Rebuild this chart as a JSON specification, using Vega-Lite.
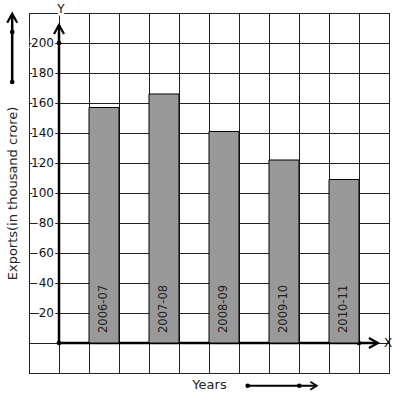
{
  "$schema": "https://vega.github.io/schema/vega-lite/v6.json",
  "width": 360,
  "height": 360,
  "autosize": "none",
  "padding": {"left": 29, "top": 13, "right": 8, "bottom": 26},
  "background": "white",
  "config": {
    "font": "DejaVu Sans",
    "view": {"stroke": "#222", "strokeWidth": 1},
    "axis": {"gridColor": "#222", "gridOpacity": 1, "gridWidth": 1, "titleFontWeight": "normal", "titleFontSize": 13, "titleColor": "#222", "titleFont": "DejaVu Sans"}
  },
  "datasets": {
    "exports": [
      {"year": "2006-07", "exports": 157},
      {"year": "2007-08", "exports": 166},
      {"year": "2008-09", "exports": 141},
      {"year": "2009-10", "exports": 122},
      {"year": "2010-11", "exports": 109}
    ],
    "ticks": [
      {"v": 20}, {"v": 40}, {"v": 60}, {"v": 80}, {"v": 100},
      {"v": 120}, {"v": 140}, {"v": 160}, {"v": 180}, {"v": 200}
    ],
    "one": [{}]
  },
  "resolve": {"scale": {"x": "independent"}},
  "layer": [
    {
      "layer": [
        {
          "data": {"name": "ticks"},
          "mark": {"type": "text", "align": "right", "baseline": "middle", "dx": -5, "fontSize": 12, "fill": "white", "stroke": "white", "strokeWidth": 4},
          "encoding": {
            "x": {"datum": 0, "type": "quantitative",
              "scale": {"domain": [-1, 11], "nice": false, "zero": false},
              "axis": {"values": [-1, 0, 1, 2, 3, 4, 5, 6, 7, 8, 9, 10, 11], "tickCount": 30, "grid": true, "labels": false, "ticks": false, "domain": false, "title": "Years", "titlePadding": 5}},
            "y": {"field": "v", "type": "quantitative",
              "scale": {"domain": [-20, 220], "nice": false, "zero": false},
              "axis": {"values": [-20, 0, 20, 40, 60, 80, 100, 120, 140, 160, 180, 200, 220], "tickCount": 30, "grid": true, "labels": false, "ticks": false, "domain": false, "title": "Exports(in thousand crore)", "titlePadding": 10}},
            "text": {"field": "v", "type": "quantitative", "format": "d"}
          }
        },
        {
          "data": {"name": "ticks"},
          "mark": {"type": "text", "align": "right", "baseline": "middle", "dx": -5, "fontSize": 12, "fill": "#111"},
          "encoding": {
            "x": {"datum": 0, "type": "quantitative"},
            "y": {"field": "v", "type": "quantitative"},
            "text": {"field": "v", "type": "quantitative", "format": "d"}
          }
        },
        {
          "data": {"name": "one"},
          "mark": {"type": "text", "text": "Y", "align": "center", "baseline": "middle", "dx": 2, "dy": -4, "fontSize": 12, "fill": "white", "stroke": "white", "strokeWidth": 5},
          "encoding": {"x": {"datum": 0, "type": "quantitative"}, "y": {"datum": 220, "type": "quantitative"}}
        },
        {
          "data": {"name": "one"},
          "mark": {"type": "text", "text": "Y", "align": "center", "baseline": "middle", "dx": 2, "dy": -4, "fontSize": 12, "fill": "#111"},
          "encoding": {"x": {"datum": 0, "type": "quantitative"}, "y": {"datum": 220, "type": "quantitative"}}
        },
        {
          "data": {"name": "one"},
          "mark": {"type": "text", "text": "X", "align": "center", "baseline": "middle", "dx": -1, "fontSize": 12, "fill": "#111"},
          "encoding": {"x": {"datum": 11, "type": "quantitative"}, "y": {"datum": 0, "type": "quantitative"}}
        },
        {
          "data": {"name": "one"},
          "mark": {"type": "rule", "color": "black", "strokeWidth": 2.5},
          "encoding": {"x": {"datum": 0, "type": "quantitative"}, "x2": {"datum": 10.63}, "y": {"datum": 0, "type": "quantitative"}}
        },
        {
          "data": {"name": "one"},
          "mark": {"type": "rule", "color": "black", "strokeWidth": 2.5},
          "encoding": {"x": {"datum": 0, "type": "quantitative"}, "y": {"datum": 0, "type": "quantitative"}, "y2": {"datum": 212}}
        },
        {
          "data": {"name": "one"},
          "mark": {"type": "point", "shape": "M -1 1.8 L 0 0 L 1 1.8", "filled": false, "stroke": "black", "strokeWidth": 2.2, "opacity": 1, "size": 100},
          "encoding": {"x": {"datum": 0, "type": "quantitative"}, "y": {"datum": 212, "type": "quantitative"}}
        },
        {
          "data": {"name": "one"},
          "mark": {"type": "point", "shape": "M -1 1.8 L 0 0 L 1 1.8", "filled": false, "stroke": "black", "strokeWidth": 2.2, "opacity": 1, "size": 100, "angle": 90},
          "encoding": {"x": {"datum": 10.63, "type": "quantitative"}, "y": {"datum": 0, "type": "quantitative"}}
        },
        {
          "data": {"name": "one"},
          "mark": {"type": "rule", "color": "black", "strokeWidth": 2.5},
          "encoding": {"x": {"datum": -1.56, "type": "quantitative"}, "y": {"datum": 219.5, "type": "quantitative"}, "y2": {"datum": 174}}
        },
        {
          "data": {"name": "one"},
          "mark": {"type": "point", "shape": "M -1 1.8 L 0 0 L 1 1.8", "filled": false, "stroke": "black", "strokeWidth": 2.2, "opacity": 1, "size": 100},
          "encoding": {"x": {"datum": -1.56, "type": "quantitative"}, "y": {"datum": 219.5, "type": "quantitative"}}
        },
        {
          "data": {"name": "one"},
          "mark": {"type": "rule", "color": "black", "strokeWidth": 2},
          "encoding": {"x": {"datum": 6.29, "type": "quantitative"}, "x2": {"datum": 8.59}, "y": {"datum": -28.5, "type": "quantitative"}}
        },
        {
          "data": {"name": "one"},
          "mark": {"type": "point", "shape": "M -1 1.6 L 0 0 L 1 1.6", "filled": false, "stroke": "black", "strokeWidth": 1.8, "opacity": 1, "size": 64, "angle": 90},
          "encoding": {"x": {"datum": 8.59, "type": "quantitative"}, "y": {"datum": -28.5, "type": "quantitative"}}
        },
        {
          "data": {"values": [
            {"px": 0, "py": 0}, {"px": 0, "py": 200}, {"px": 10, "py": 0},
            {"px": -1.56, "py": 207.3}, {"px": -1.56, "py": 174},
            {"px": 6.29, "py": -28.5}, {"px": 8.01, "py": -28.5}
          ]},
          "mark": {"type": "circle", "color": "black", "opacity": 1, "size": 22},
          "encoding": {"x": {"field": "px", "type": "quantitative"}, "y": {"field": "py", "type": "quantitative"}}
        }
      ]
    },
    {
      "data": {"name": "exports"},
      "encoding": {
        "x": {"field": "year", "type": "nominal", "sort": null,
          "scale": {"type": "band", "domain": ["2006-07", "2007-08", "2008-09", "2009-10", "2010-11"], "range": [60, 330], "paddingInner": 0.5, "paddingOuter": 0},
          "axis": null}
      },
      "layer": [
        {
          "mark": {"type": "bar", "fill": "#999999", "stroke": "black", "strokeWidth": 1},
          "encoding": {
            "y": {"field": "exports", "type": "quantitative"},
            "y2": {"datum": 0}
          }
        },
        {
          "mark": {"type": "text", "angle": 270, "align": "left", "baseline": "middle", "dx": 10, "fontSize": 11.5, "fill": "#222"},
          "encoding": {
            "y": {"datum": 0, "type": "quantitative"},
            "text": {"field": "year", "type": "nominal"}
          }
        }
      ]
    }
  ]
}
